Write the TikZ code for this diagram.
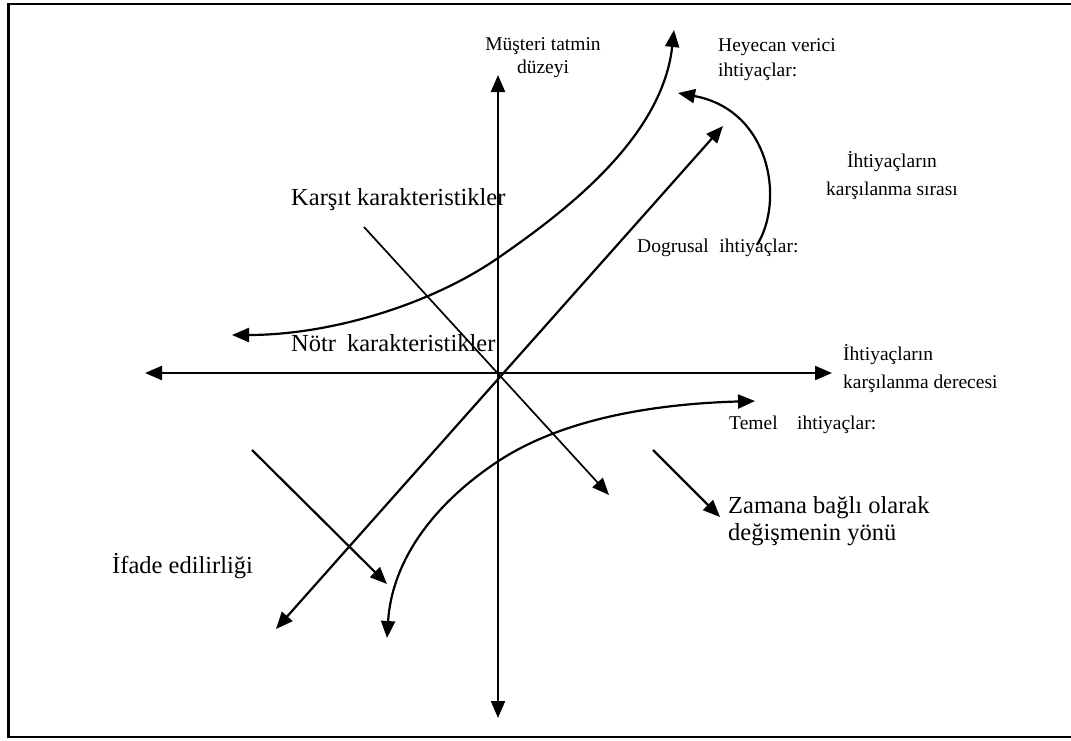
\documentclass[tikz,border=0pt]{standalone}
\usepackage{fontspec}
\setmainfont{Liberation Serif}
\usetikzlibrary{arrows.meta}
\begin{document}
\begin{tikzpicture}[x=1pt,y=-1pt,
  arr/.style={line width=2.2pt,-{Triangle[length=17pt,width=14pt]}},
  darr/.style={line width=2.2pt,{Triangle[length=17pt,width=14pt]}-{Triangle[length=17pt,width=14pt]}},
  thinarr/.style={line width=1.7pt,-{Triangle[length=17pt,width=14pt]}},
  small/.style={font=\fontsize{19.5}{23}\selectfont,inner sep=0pt},
  big/.style={font=\fontsize{24.5}{27}\selectfont,inner sep=0pt}]
\useasboundingbox (0,0) rectangle (1071,740);
% frame
\draw[line width=2.6pt] (1071,4) -- (8.5,4) -- (8.5,737) -- (1071,737);
% coordinates
\coordinate (O) at (498,373);
\coordinate (hl) at (145,373);
\coordinate (hr) at (832,373);
\coordinate (vt) at (498,75);
\coordinate (vb) at (498,718);
\coordinate (dl) at (276,629);
\coordinate (dr) at (723,126);
\coordinate (ks) at (364,227);
\coordinate (ke) at (609,495);
\coordinate (is) at (252,450);
\coordinate (ie) at (387,584);
\coordinate (zs) at (653,450);
\coordinate (ze) at (720,517);
\coordinate (ta) at (232,335);
\coordinate (tm) at (498,258);
\coordinate (tb) at (674,30);
\coordinate (ba) at (755,401);
\coordinate (bm) at (497,462);
\coordinate (bb) at (387,638);
\coordinate (rs) at (757,245);
\coordinate (re) at (678,93);
% axes and straight arrows
\draw[darr] (hl) -- (hr);
\draw[darr] (vt) -- (vb);
\draw[darr] (dl) -- (dr);
\draw[thinarr] (ks) -- (ke);
\draw[arr] (is) -- (ie);
\draw[arr] (zs) -- (ze);
% curves
\draw[darr] (ta) .. controls (330,335) and (430,305) .. (tm)
  .. controls (560,215) and (662,140) .. (tb);
\draw[darr] (ba) .. controls (650,404) and (560,420) .. (bm)
  .. controls (434,504) and (392,560) .. (bb);
\draw[arr] (rs) .. controls (785,200) and (770,110) .. (re);
% labels
\node[small,align=center] (mt) at (543,58) {Müşteri tatmin\\düzeyi};
\node[small,align=left,anchor=west,font=\fontsize{19.5}{25}\selectfont] (hv) at (718,59.5) {Heyecan verici\\ihtiyaçlar:};
\node[small,align=center,font=\fontsize{19.5}{28}\selectfont] (ks2) at (892,176) {İhtiyaçların\\karşılanma sırası};
\node[small,anchor=west] (dg) at (637,248) {Dogrusal\hspace{0.55em}ihtiyaçlar:};
\node[big,anchor=west] (kk) at (291,200) {Karşıt karakteristikler};
\node[big,anchor=west] (nk) at (291,343) {Nötr\hspace{0.2em} karakteristikler};
\node[small,align=left,anchor=west,font=\fontsize{19.5}{28}\selectfont] (kd) at (843,369) {İhtiyaçların\\karşılanma derecesi};
\node[small,anchor=west] (tm2) at (729,425) {Temel\hspace{1em}ihtiyaçlar:};
\node[big,align=left,anchor=west] (zb) at (728,521) {Zamana bağlı olarak\\değişmenin yönü};
\node[big,anchor=west] (ie2) at (112,566) {İfade edilirliği};
\end{tikzpicture}
\end{document}
